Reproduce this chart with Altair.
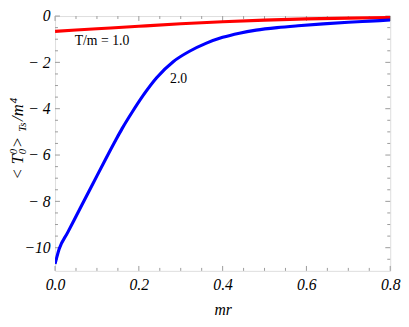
import altair as alt
import pandas as pd

# Blue curve, T/m = 2.0
mr_blue = [0.0, 0.01, 0.03, 0.06, 0.09, 0.12, 0.145, 0.16, 0.185, 0.212, 0.243, 0.282, 0.321,
           0.36, 0.40, 0.44, 0.48, 0.53, 0.58, 0.64, 0.70, 0.75, 0.80]
t_blue = [-10.7, -10.05, -9.35, -8.3, -7.25, -6.2, -5.35, -4.86, -4.12, -3.38, -2.65, -1.97, -1.52,
          -1.18, -0.92, -0.74, -0.61, -0.5, -0.42, -0.34, -0.27, -0.22, -0.17]

# Red curve, T/m = 1.0
mr_red = [0.0, 0.1, 0.2, 0.3, 0.4, 0.5, 0.6, 0.7, 0.8]
t_red = [-0.66, -0.55, -0.44, -0.335, -0.245, -0.175, -0.125, -0.09, -0.065]

label_text = ["T/m = 1.0", "2.0"]
label_x = [0.112, 0.295]
label_y = [-1.1, -2.7]

x_major = [0.0, 0.2, 0.4, 0.6, 0.8]
x_minor = [0.05, 0.1, 0.15, 0.25, 0.3, 0.35, 0.45, 0.5, 0.55, 0.65, 0.7, 0.75]
y_major = [0, -2, -4, -6, -8, -10]
y_minor = [-0.5, -1, -1.5, -2.5, -3, -3.5, -4.5, -5, -5.5, -6.5, -7, -7.5, -8.5, -9, -9.5, -10.5]

W, H = 342, 260
PAD_L, PAD_T = 48, 5

df = pd.DataFrame({
    "mr": mr_red + mr_blue,
    "val": t_red + t_blue,
    "series": ["1.0"] * len(mr_red) + ["2.0"] * len(mr_blue),
})
lab = pd.DataFrame({"mr": label_x, "val": label_y, "txt": label_text})

serif = "Liberation Serif, Times New Roman, serif"
frame_col = "#9a9a9a"

xscale = alt.Scale(domain=[0, 0.8], nice=False, zero=False)
yscale = alt.Scale(domain=[-11, 0], nice=False, zero=False)

xaxis = alt.Axis(values=x_major, format=".1f", tickSize=0, domain=False, grid=False,
                 labelFont=serif, labelFontStyle="italic", labelFontSize=16, labelColor="black",
                 labelPadding=6, title="mr", titleFont=serif, titleFontStyle="italic",
                 titleFontSize=16, titleFontWeight="normal", titleColor="black", titlePadding=10,
                 labelFlush=False)
yaxis = alt.Axis(values=y_major, tickSize=0, domain=False, grid=False,
                 labelExpr="datum.value < 0 ? (datum.value > -10 ? '\u2212 ' : '\u2212') + abs(datum.value) : datum.value",
                 labelFont=serif, labelFontStyle="italic", labelFontSize=16, labelColor="black",
                 labelPadding=5, title=None, labelFlush=False)

X = lambda: alt.X("mr:Q", scale=xscale, axis=xaxis)
Y = lambda: alt.Y("val:Q", scale=yscale, axis=yaxis)

lines = alt.Chart(df).mark_line(strokeWidth=3.2, interpolate="monotone", clip=True).encode(
    x=X(), y=Y(),
    color=alt.Color("series:N", scale=alt.Scale(domain=["1.0", "2.0"], range=["#ff0000", "#0000ff"]),
                    legend=None),
)

texts = alt.Chart(lab).mark_text(font=serif, fontSize=14, color="black").encode(
    x=X(), y=Y(), text="txt:N")


def xticks(vals, length):
    d = pd.DataFrame({"mr": vals})
    b = alt.Chart(d).mark_rule(color=frame_col, strokeWidth=1).encode(
        x=X(), y=alt.value(H), y2=alt.value(H - length))
    t = alt.Chart(d).mark_rule(color=frame_col, strokeWidth=1).encode(
        x=X(), y=alt.value(0), y2=alt.value(length))
    return [b, t]


def yticks(vals, length):
    d = pd.DataFrame({"val": vals})
    l = alt.Chart(d).mark_rule(color=frame_col, strokeWidth=1).encode(
        y=Y(), x=alt.value(0), x2=alt.value(length))
    r = alt.Chart(d).mark_rule(color=frame_col, strokeWidth=1).encode(
        y=Y(), x=alt.value(W), x2=alt.value(W - length))
    return [l, r]


# Y-axis title "< T^0_0 >_Ts / m^4" built from rotated text pieces
one = pd.DataFrame({"k": [0]})
base_x = 23 - 8 - PAD_L       # page x of the main baseline, in plot coordinates
start_y = 180 - 8 - PAD_T     # page y where the title starts (it reads upward)
MAIN, SCRIPT = 17, 11


def piece(txt, along, dx, size):
    return alt.Chart(one).mark_text(
        text=txt, angle=270, align="left", baseline="alphabetic", font=serif,
        fontStyle="italic", fontSize=size, color="black",
    ).encode(x=alt.value(base_x + dx), y=alt.value(start_y - along))


title_layers = [
    piece("< T", 0, 0, MAIN),
    piece("0", 26, -6, SCRIPT),
    piece("0", 26, 3, SCRIPT),
    piece(" >", 32, 0, MAIN),
    piece("Ts", 49, 3, SCRIPT),
    piece("/m", 60, 0, MAIN),
    piece("4", 78, -6, SCRIPT),
]

layers = (xticks(x_major, 5) + xticks(x_minor, 3) + yticks(y_major, 5) + yticks(y_minor, 3)
          + [lines, texts] + title_layers)

chart = alt.layer(*layers).properties(
    width=W, height=H,
    autosize=alt.AutoSizeParams(type="none"),
    padding={"left": PAD_L, "top": PAD_T, "right": 11, "bottom": 50},
).configure_view(stroke=frame_col, strokeWidth=1).configure(background="white")

chart.save("out.html", embed_options={"renderer": "svg", "actions": False})
